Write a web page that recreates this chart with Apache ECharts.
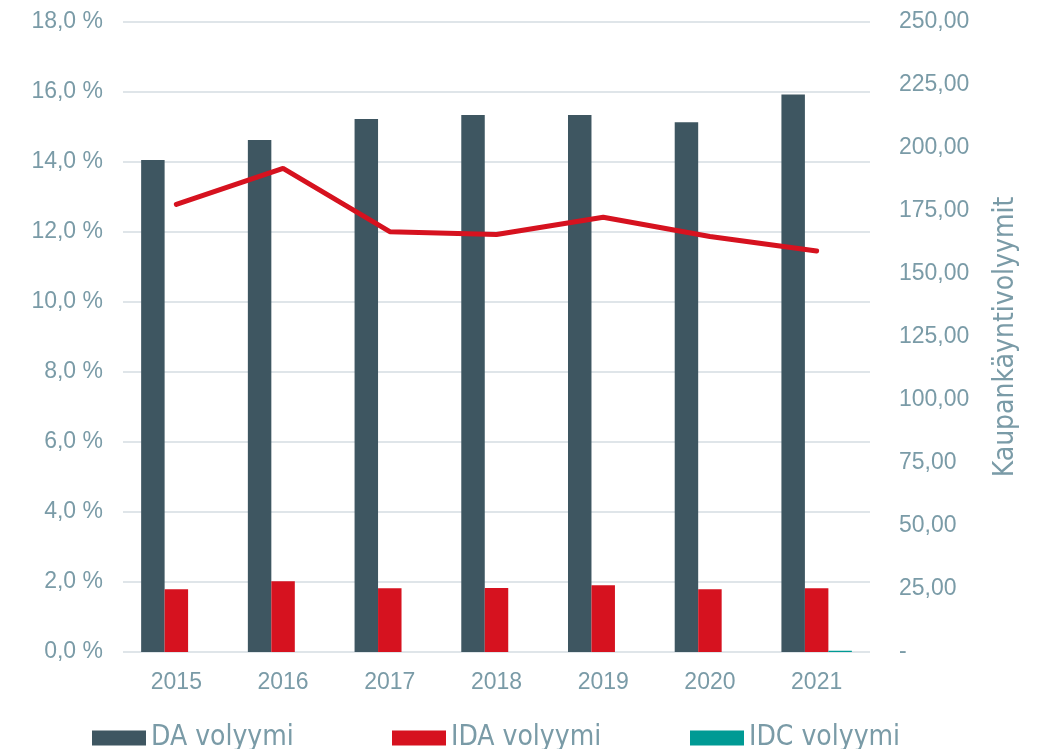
<!DOCTYPE html>
<html>
<head>
<meta charset="utf-8">
<script src="https://cdn.jsdelivr.net/npm/echarts@6/dist/echarts.min.js"></script>
<style>
html, body { margin: 0; padding: 0; background: #fff; }
#main { width: 1043px; height: 749px; }
</style>
</head>
<body>
<div id="main"></div>
<script>
// data
var years = ['2015', '2016', '2017', '2018', '2019', '2020', '2021'];
var seriesNames = ['DA volyymi', 'IDA volyymi', 'IDC volyymi'];
var daVolyymi = [195.2, 203.2, 211.5, 213.1, 213.1, 210.2, 221.2];
var idaVolyymi = [24.9, 28.05, 25.3, 25.4, 26.5, 24.9, 25.3];
var idcVolyymi = [0, 0, 0, 0, 0, 0, 0.5];
var osuus = [12.79, 13.82, 12.01, 11.93, 12.42, 11.87, 11.46];

var labelColor = '#7a9ba7';
var narrow = '"Liberation Sans Narrow", "DejaVu Sans Condensed", "Liberation Sans", sans-serif';
var myChart = echarts.init(document.getElementById('main'));

// one legend per item so each sits where the original has it
var legendLeft = [87, 387, 685];
var legends = seriesNames.map(function (n, i) {
	return {
		data: [n],
		left: legendLeft[i],
		top: 719,
		itemWidth: 54,
		itemHeight: 15,
		icon: 'rect',
		textStyle: { color: labelColor, fontSize: 28, fontFamily: narrow }
	};
});

var option = {
	animation: false,
	grid: { left: 123, right: 173, top: 22, bottom: 97 },
	legend: legends,
	xAxis: {
		type: 'category',
		data: years,
		axisLine: { show: false },
		axisTick: { show: false },
		axisLabel: { color: labelColor, fontSize: 23, fontFamily: 'Liberation Sans', margin: 19 }
	},
	yAxis: [{
		type: 'value',
		min: 0,
		max: 18,
		interval: 2,
		axisLabel: {
			color: labelColor, fontSize: 23, fontFamily: 'Liberation Sans', margin: 20,
			formatter: function (v) { return v.toFixed(1).replace('.', ',') + ' %'; }
		},
		splitLine: { lineStyle: { color: '#dfe5e9', width: 2 } }
	}, {
		type: 'value',
		min: 0,
		max: 250,
		interval: 25,
		position: 'right',
		name: 'Kaupankäyntivolyymit',
		nameLocation: 'middle',
		nameRotate: 90,
		nameGap: 122,
		nameTextStyle: { color: labelColor, fontSize: 28, fontFamily: narrow },
		axisLabel: {
			color: labelColor, fontSize: 23, fontFamily: 'Liberation Sans', margin: 29,
			formatter: function (v) { return v === 0 ? '-' : v.toFixed(2).replace('.', ','); }
		},
		splitLine: { show: false }
	}],
	series: [{
		name: seriesNames[0],
		type: 'bar',
		yAxisIndex: 1,
		data: daVolyymi,
		barGap: '0%',
		barCategoryGap: '34%',
		itemStyle: { color: '#3e5661' }
	}, {
		name: seriesNames[1],
		type: 'bar',
		yAxisIndex: 1,
		data: idaVolyymi,
		itemStyle: { color: '#d6121f' }
	}, {
		name: seriesNames[2],
		type: 'bar',
		yAxisIndex: 1,
		data: idcVolyymi,
		itemStyle: { color: '#009a94' }
	}, {
		name: 'Osuus',
		type: 'line',
		yAxisIndex: 0,
		data: osuus,
		symbol: 'none',
		lineStyle: { color: '#d6121f', width: 5, cap: 'round' },
		itemStyle: { color: '#d6121f' },
		z: 5
	}]
};
myChart.setOption(option);
</script>
</body>
</html>
